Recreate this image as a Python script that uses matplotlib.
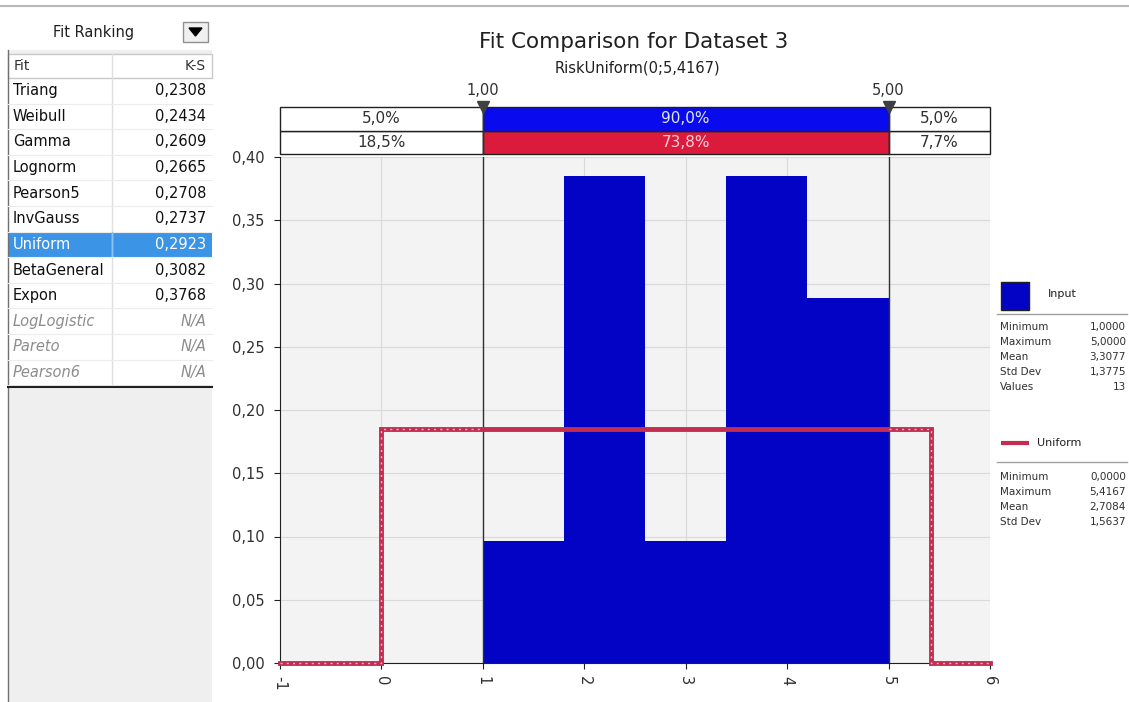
import numpy as np
import matplotlib
matplotlib.use("Agg")
import matplotlib.pyplot as plt
from matplotlib.patches import Rectangle, Polygon
from matplotlib.ticker import FuncFormatter

plt.rcParams['font.family'] = ['DejaVu Sans']
plt.rcParams['axes.unicode_minus'] = False

# fit ranking table
fit_names = ["Triang", "Weibull", "Gamma", "Lognorm", "Pearson5", "InvGauss",
             "Uniform", "BetaGeneral", "Expon", "LogLogistic", "Pareto", "Pearson6"]
fit_ks = ["0,2308", "0,2434", "0,2609", "0,2665", "0,2708", "0,2737",
          "0,2923", "0,3082", "0,3768", "N/A", "N/A", "N/A"]
selected_fit = "Uniform"

# histogram of the input data (density per bin)
bin_edges = [1.0, 1.8, 2.6, 3.4, 4.2, 5.0]
bin_density = [0.0962, 0.3846, 0.0962, 0.3846, 0.2885]

# fitted uniform distribution
unif_lo, unif_hi = 0.0, 5.4167

# delimiters and probabilities in the bands above the plot
cutoffs = [1.0, 5.0]
input_pct = ["5,0%", "90,0%", "5,0%"]
fit_pct = ["18,5%", "73,8%", "7,7%"]

# legend statistics
input_stats = [("Minimum", "1,0000"), ("Maximum", "5,0000"), ("Mean", "3,3077"),
               ("Std Dev", "1,3775"), ("Values", "13")]
fit_stats = [("Minimum", "0,0000"), ("Maximum", "5,4167"), ("Mean", "2,7084"),
             ("Std Dev", "1,5637")]

x_ticks = [-1, 0, 1, 2, 3, 4, 5, 6]
y_ticks = [0.0, 0.05, 0.10, 0.15, 0.20, 0.25, 0.30, 0.35, 0.40]

BAR_BLUE = "#0303c6"
BAND_BLUE = "#0a0aee"
BAND_RED = "#dc1a3c"
FIT_RED = "#c42c50"
W, H = 1129, 702

fig = plt.figure(figsize=(W / 100, H / 100), dpi=100)
fig.patch.set_facecolor("white")

# ---- overlay in pixel units for the side panels
ov = fig.add_axes([0, 0, 1, 1])
ov.set_xlim(0, W)
ov.set_ylim(H, 0)
ov.axis("off")

ov.plot([0, W], [6, 6], color="#b8b8b8", lw=1.5)
ov.add_patch(Rectangle((8, 50), 204, 652, facecolor="#efefef", edgecolor="none"))
ov.plot([8, 8], [50, 702], color="#707070", lw=1)
ov.text(94, 32, "Fit Ranking", ha="center", va="center", fontsize=10.5, color="#202020")
ov.add_patch(Rectangle((183, 22), 25, 20, facecolor="#f0f0f0", edgecolor="#909090", lw=1))
ov.add_patch(Polygon([(189, 28), (202, 28), (195.5, 36)], closed=True, color="black"))

# table
row_h = 25.6
top = 78
tbl_bottom = top + row_h * len(fit_names)
ov.add_patch(Rectangle((8, 54), 204, tbl_bottom - 54, facecolor="white", edgecolor="none"))
ov.add_patch(Rectangle((8, 54), 204, 24, facecolor="white", edgecolor="#c8c8c8", lw=1))
ov.plot([112, 112], [54, tbl_bottom], color="#e0e0e0", lw=1)
ov.text(14, 66, "Fit", ha="left", va="center", fontsize=10, color="#303030")
ov.text(206, 66, "K-S", ha="right", va="center", fontsize=10, color="#303030")
for i, (name, ks) in enumerate(zip(fit_names, fit_ks)):
    y0 = top + i * row_h
    yc = y0 + row_h / 2
    color = "#101010"
    style = "normal"
    if name == selected_fit:
        ov.add_patch(Rectangle((8, y0), 204, row_h, facecolor="#3b94e6", edgecolor="none"))
        ov.plot([112, 112], [y0, y0 + row_h], color="#8cc0f0", lw=1)
        color = "white"
    elif ks == "N/A":
        color = "#8c8c8c"
        style = "italic"
    ov.plot([8, 212], [y0 + row_h, y0 + row_h], color="#ececec", lw=0.8)
    ov.text(13, yc, name, ha="left", va="center", fontsize=10.5, color=color, style=style)
    ov.text(206, yc, ks, ha="right", va="center", fontsize=10.5, color=color, style=style)
ov.plot([8, 212], [tbl_bottom + 2, tbl_bottom + 2], color="#202020", lw=1.5)

# legend on the right
ov.add_patch(Rectangle((1001, 282), 28, 28, facecolor=BAR_BLUE, edgecolor="#202020", lw=1))
ov.text(1048, 294, "Input", ha="left", va="center", fontsize=8, color="#202020")
ov.plot([997, 1127], [314, 314], color="#a0a0a0", lw=1)
for j, (k, v) in enumerate(input_stats):
    ov.text(1000, 327 + j * 15, k, ha="left", va="center", fontsize=7.5, color="#303030")
    ov.text(1126, 327 + j * 15, v, ha="right", va="center", fontsize=7.5, color="#303030")
ov.plot([1001, 1029], [443, 443], color=FIT_RED, lw=3, solid_capstyle="butt")
ov.text(1037, 443, "Uniform", ha="left", va="center", fontsize=8, color="#202020")
ov.plot([997, 1127], [462, 462], color="#a0a0a0", lw=1)
for j, (k, v) in enumerate(fit_stats):
    ov.text(1000, 477 + j * 15, k, ha="left", va="center", fontsize=7.5, color="#303030")
    ov.text(1126, 477 + j * 15, v, ha="right", va="center", fontsize=7.5, color="#303030")

# titles
fig.text(634 / W, 1 - 42 / H, "Fit Comparison for Dataset 3", ha="center", va="center",
         fontsize=15.5, color="#202020")
fig.text(637 / W, 1 - 68 / H, "RiskUniform(0;5,4167)", ha="center", va="center",
         fontsize=10.5, color="#202020")

# ---- main plot
ax = fig.add_axes([280 / W, 1 - 663 / H, 710 / W, (663 - 157) / H])
ax.set_facecolor("#f3f3f3")
ax.set_xlim(x_ticks[0], x_ticks[-1])
ax.set_ylim(0, 0.40)
ax.set_xticks(x_ticks)
ax.set_yticks(y_ticks)
ax.grid(True, color="#d9d9d9", lw=0.8)
ax.set_axisbelow(True)
for s in ["top", "right"]:
    ax.spines[s].set_visible(False)
for s in ["left", "bottom"]:
    ax.spines[s].set_color("#202020")
ax.tick_params(direction="out", length=4, color="#202020", labelsize=10.5, labelcolor="#303030")
ax.tick_params(axis="y", pad=7)
ax.tick_params(axis="x", labelrotation=270, pad=5)
ax.yaxis.set_major_formatter(FuncFormatter(lambda v, p: f"{v:.2f}".replace(".", ",")))

ax.bar(bin_edges[:-1], bin_density, width=np.diff(bin_edges), align="edge",
       color=BAR_BLUE, edgecolor="none", zorder=2)

for c in cutoffs:
    ax.axvline(c, color="#303030", lw=1, zorder=3)

# uniform pdf, hatched outside the delimiters
h = 1.0 / (unif_hi - unif_lo)
left_x = [x_ticks[0], unif_lo, unif_lo, cutoffs[0]]
left_y = [0, 0, h, h]
right_x = [cutoffs[1], unif_hi, unif_hi, x_ticks[-1]]
right_y = [h, h, 0, 0]
for xs, ys in [(left_x, left_y), (right_x, right_y)]:
    ax.plot(xs, ys, color=FIT_RED, lw=3.5, zorder=4, clip_on=False, solid_joinstyle="miter")
    ax.plot(xs, ys, color="white", lw=1.0, ls=(0, (1.5, 3.0)), alpha=0.7, zorder=5,
            clip_on=False)
ax.plot(cutoffs, [h, h], color=FIT_RED, lw=3.5, zorder=4, solid_capstyle="butt")

# ---- probability bands
bx = fig.add_axes([280 / W, 1 - 154 / H, 710 / W, 47 / H])
bx.set_xlim(x_ticks[0], x_ticks[-1])
bx.set_ylim(0, 2)
bx.axis("off")
edges = [x_ticks[0]] + cutoffs + [x_ticks[-1]]
for row, (pcts, fill, tcol) in enumerate([(fit_pct, BAND_RED, "#ffd0da"),
                                           (input_pct, BAND_BLUE, "#e0e8ff")]):
    for k in range(3):
        x0, x1 = edges[k], edges[k + 1]
        face = fill if k == 1 else "white"
        bx.add_patch(Rectangle((x0, row), x1 - x0, 1, facecolor=face, edgecolor="#202020",
                               lw=1, clip_on=False))
        bx.text((x0 + x1) / 2, row + 0.5, pcts[k], ha="center", va="center", fontsize=11,
                color=tcol if k == 1 else "#303030")
for c in cutoffs:
    bx.plot([c, c], [0, 2], color="#303030", lw=1, clip_on=False)
    bx.plot([c], [2.02], marker="v", ms=9, color="#404040", clip_on=False)
    bx.text(c, 2.7, f"{c:.2f}".replace(".", ","), ha="center", va="center", fontsize=10.5,
            color="#303030")

fig.savefig("out.png", dpi=100)
